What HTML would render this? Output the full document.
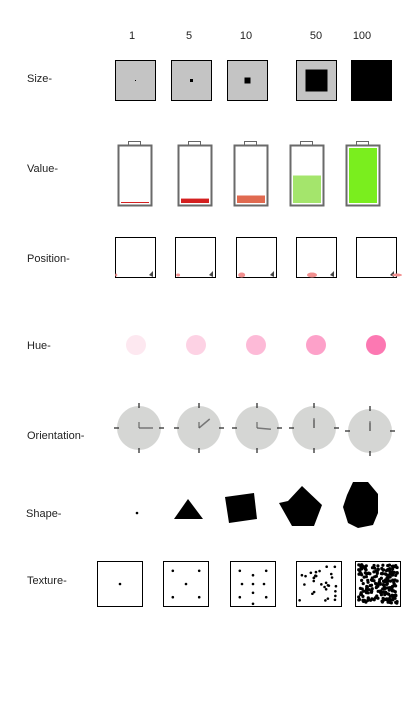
<!DOCTYPE html>
<html><head><meta charset="utf-8"><style>
body{margin:0;background:#fff;width:403px;height:712px;overflow:hidden;font-family:"Liberation Sans",sans-serif}
svg{display:block}
text{font-family:"Liberation Sans",sans-serif;font-size:11px;fill:#222}
</style></head><body>
<svg id="c" width="403" height="712"></svg>
<script>
const levels=["1","5","10","50","100"];
const sizeValues=[1,5,10,50,100];
const valueFill=[1,5,10,50,100];
const valueColors=["#d42020","#d42020","#e06a50","#a4e56c","#7aee1e"];
const positionValues=[1,5,10,50,100];
const hueColors=["#fde8f0","#fdd2e4","#fdbad7","#fda1c9","#fc78b2"];
const orientAngles=[90,50,95,0,0];
const shapeSides=[0,3,4,5,9];
const textureCounts=[1,5,9,30,200];
const rowLabels=["Size-","Value-","Position-","Hue-","Orientation-","Shape-","Texture-"];
const rowY=[78,168,258,345,435,513,580];

const NS="http://www.w3.org/2000/svg",svg=document.getElementById('c');
function mk(t,a,p){const e=document.createElementNS(NS,t);for(const k in a)e.setAttribute(k,a[k]);(p||svg).appendChild(e);return e;}
let seed=7;function rnd(){seed=(seed*16807)%2147483647;return seed/2147483647;}

const colX=[132,189,246,316,362];
levels.forEach((l,i)=>{const t=mk('text',{x:colX[i],y:39,'text-anchor':'middle'});t.textContent=l;

});
rowLabels.forEach((l,i)=>{const t=mk('text',{x:i==5?26:27,y:rowY[i]+4});t.textContent=l;

});

// Size
const sizeX=[115,171,227,296,351];
sizeValues.forEach((v,i)=>{const g=mk('g',{});


mk('rect',{x:sizeX[i]+0.5,y:60.5,width:40,height:40,fill:'#c4c4c4',stroke:'#000'},g);
const sz=v==100?41:Math.max(1,Math.round(38*Math.pow(v/100,0.8)));
mk('rect',{x:sizeX[i]+20.5-sz/2,y:80.5-sz/2,width:sz,height:sz,fill:'#000'},g);});

// Value (battery)
const batX=[118,178,234,290,346];
valueFill.forEach((v,i)=>{const g=mk('g',{});


const x=batX[i];
mk('rect',{x:x+10.5,y:141.5,width:12,height:4,fill:'none',stroke:'#666'},g);
mk('rect',{x:x+0.5,y:145.5,width:33,height:60,fill:'#fff',stroke:'#6a6a6a','stroke-width':2},g);
const h=Math.max(1,55*v/100+(v<50?Math.min(2,v/3):0));
mk('rect',{x:x+3,y:203-h,width:28,height:h,fill:valueColors[i]},g);});

// Position
const posX=[115,175,236,296,356];
positionValues.forEach((v,i)=>{const g=mk('g',{});


const x=posX[i];
mk('rect',{x:x+0.5,y:237.5,width:40,height:40,fill:'#fff',stroke:'#000'},g);
mk('path',{d:`M${x+34} 275L${x+38} 271L${x+38} 277Z`,fill:'#444'},g);
const bx=x+40*v/100*0.55, w=v==1?2:v==5?4:v==10?7:10;
mk('ellipse',{cx:v==100?x+41:bx+w/2,cy:275,rx:w/2,ry:v>=10&&v<100?2.5:1.5,fill:'#f29090'},g);});

// Hue
const hueX=[136,196,256,316,376];
hueColors.forEach((c,i)=>{const e=mk('circle',{cx:hueX[i],cy:345,r:10,fill:c});

});

// Orientation
const clkX=[139,199,257,314,370],clkY=[428,428,428,428,431];
orientAngles.forEach((a,i)=>{const g=mk('g',{});


const cx=clkX[i],cy=clkY[i];
mk('circle',{cx:cx,cy:cy,r:22,fill:'#d5d6d4'},g);
[[0,-1],[0,1],[-1,0],[1,0]].forEach(d=>mk('line',{x1:cx+d[0]*20,y1:cy+d[1]*20,x2:cx+d[0]*25,y2:cy+d[1]*25,stroke:'#333','stroke-width':1.3},g));
const r=a*Math.PI/180;
mk('line',{x1:cx,y1:cy,x2:cx+14*Math.sin(r),y2:cy-14*Math.cos(r)*(a==0?0.7:1),stroke:'#777','stroke-width':1.5},g);
mk('line',{x1:cx,y1:cy,x2:cx,y2:cy-(a==0?8:6),stroke:'#555','stroke-width':1},g);});

// Shape
const shapePts=[null,[[174,519],[188,499],[203,519]],[[225,497],[254,493],[257,519],[229,523]],
[[279,503],[288,501],[302,486],[322,505],[314,526],[292,526]],
[[353,482],[368,482],[378,494],[378,513],[373,525],[358,528],[348,523],[343,507],[347,495]]];
shapeSides.forEach((n,i)=>{let e;
if(n==0)e=mk('circle',{cx:137,cy:513,r:1.3,fill:'#000'});
else e=mk('polygon',{points:shapePts[i].map(p=>p.join(',')).join(' '),fill:'#000'});

});

// Texture
const texX=[97,163,230,296,355];
const grids={1:[[.5,.5]],5:[[.2,.2],[.8,.2],[.5,.5],[.2,.8],[.8,.8]],9:[[.2,.2],[.5,.3],[.8,.2],[.25,.5],[.5,.5],[.75,.5],[.2,.8],[.5,.7],[.8,.8],[.5,.95]]};
textureCounts.forEach((n,i)=>{const g=mk('g',{});


const x=texX[i];
mk('rect',{x:x+0.5,y:561.5,width:45,height:45,fill:'#fff',stroke:'#000'},g);
let pts=grids[n]||Array.from({length:n},()=>[0.06+0.88*rnd(),0.06+0.88*rnd()]);
pts.forEach(p=>mk('circle',{cx:x+1+p[0]*44,cy:562+p[1]*44,r:n>50?1.6:1.3,fill:'#000'},g));});
</script>
</body></html>
